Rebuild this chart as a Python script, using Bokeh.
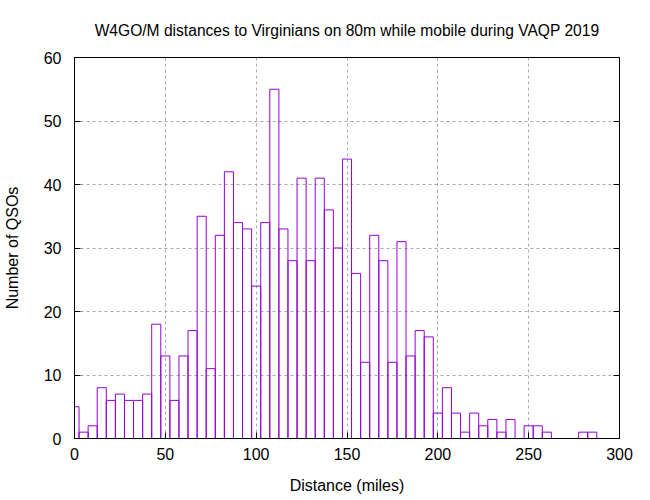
from bokeh.plotting import figure
from bokeh.models import LinearAxis, SingleIntervalTicker, Range1d, ColumnDataSource, CustomJSTickFormatter
from bokeh.embed import file_html
from bokeh.resources import INLINE

# Histogram bin centers (miles) and counts
bin_centers = [0, 5, 10, 15, 20, 25, 30, 35, 40, 45, 50, 55, 60, 65, 70, 75, 80, 85, 90, 95,
               100, 105, 110, 115, 120, 125, 130, 135, 140, 145, 150, 155, 160, 165, 170, 175,
               180, 185, 190, 195, 200, 205, 210, 215, 220, 225, 230, 235, 240, 245, 250, 255,
               260, 265, 270, 275, 280, 285]
counts = [5, 1, 2, 8, 6, 7, 6, 6, 7, 18, 13, 6, 13, 17, 35, 11, 32, 42, 34, 33,
          24, 34, 55, 33, 28, 41, 28, 41, 36, 30, 44, 26, 12, 32, 28, 12,
          31, 13, 17, 16, 4, 8, 4, 1, 4, 2, 3, 1, 3, 0, 2, 2,
          1, 0, 0, 0, 1, 1]
bin_width = 5

title_text = "W4GO/M distances to Virginians on 80m while mobile during VAQP 2019"
x_label = "Distance (miles)"
y_label = "Number of QSOs"

FONT = "Liberation Sans"
COLOR = "#9400D3"

xs = [c for c, n in zip(bin_centers, counts) if n > 0]
ns = [n for n in counts if n > 0]
src = ColumnDataSource(dict(
    left=[c - bin_width / 2 for c in xs],
    right=[c + bin_width / 2 for c in xs],
    top=ns,
    bottom=[0] * len(ns),
))

p = figure(width=650, height=500, output_backend="svg", toolbar_location=None,
           x_range=Range1d(0, 300), y_range=Range1d(0, 60),
           min_border_left=74, min_border_right=31, min_border_top=57, min_border_bottom=62)

p.title.text = title_text
p.title.align = "center"
p.title.text_font = FONT
p.title.text_font_size = "15.6px"
p.title.text_font_style = "normal"
p.title.text_color = "black"
p.title.standoff = 37

p.quad(left="left", right="right", top="top", bottom="bottom", source=src,
       fill_color=None, line_color=COLOR, line_width=1)

p.xaxis.ticker = SingleIntervalTicker(interval=50)
p.yaxis.ticker = SingleIntervalTicker(interval=10)
for ax in (p.xaxis[0], p.yaxis[0]):
    ax.major_tick_in = 6
    ax.major_tick_out = 0
    ax.minor_tick_in = 0
    ax.minor_tick_out = 0
    ax.major_label_text_font = FONT
    ax.major_label_text_font_size = "16px"
    ax.major_label_text_color = "black"
    ax.axis_label_text_font = FONT
    ax.axis_label_text_font_size = "16px"
    ax.axis_label_text_font_style = "normal"
    ax.axis_label_text_color = "black"
    ax.axis_line_color = "black"
    ax.major_tick_line_color = "black"

p.xaxis.axis_label = x_label
p.yaxis.axis_label = y_label
p.xaxis.major_label_standoff = 9
p.xaxis.axis_label_standoff = 14
p.yaxis.major_label_standoff = 13
p.yaxis.axis_label_standoff = 20

right_axis = LinearAxis(ticker=SingleIntervalTicker(interval=10),
                        formatter=CustomJSTickFormatter(code="return ''"),
                        major_tick_in=6, major_tick_out=0, minor_tick_in=0, minor_tick_out=0,
                        major_label_standoff=0, axis_line_color="black",
                        major_tick_line_color="black")
p.add_layout(right_axis, "right")

p.xgrid.ticker = SingleIntervalTicker(interval=50)
p.ygrid.ticker = SingleIntervalTicker(interval=10)
p.grid.grid_line_color = "#a8a8a8"
p.grid.grid_line_dash = "3 3"
p.grid.grid_line_width = 1

p.outline_line_color = "black"
p.outline_line_width = 1
p.outline_line_alpha = 1
p.background_fill_color = "white"
p.border_fill_color = "white"

open("out.html", "w").write(file_html(p, INLINE))
